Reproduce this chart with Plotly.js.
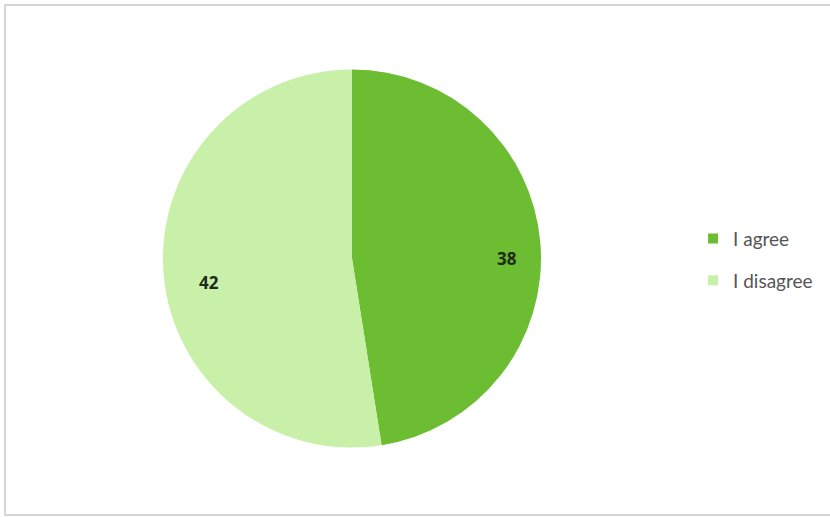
<!DOCTYPE html>
<html>
<head>
<meta charset="utf-8">
<script src="https://cdn.plot.ly/plotly-3.0.1.min.js"></script>
<style>html,body{margin:0;padding:0;background:#fff;}#chart{width:830px;height:517px;}</style>
</head>
<body>
<div id="chart"></div>
<script>
const labels = ["I agree", "I disagree"];
const values = [38, 42];
const colors = ["#6cbd31", "#c8f0a8"];

const W = 830, H = 517;
const pieX = [163 / W, 541 / W];
const pieY = [(H - 452) / H, (H - 65) / H];

const traces = [{
  type: "pie",
  labels: labels,
  values: values,
  sort: false,
  direction: "clockwise",
  rotation: 0,
  marker: {colors: colors, line: {width: 0}},
  textinfo: "none",
  showlegend: false,
  hoverinfo: "label+value",
  domain: {x: pieX, y: pieY}
}];
labels.forEach((lab, i) => {
  traces.push({
    type: "scatter", mode: "markers", x: [null], y: [null],
    name: lab, legendgroup: "g" + i,
    marker: {symbol: "square", size: 10, color: colors[i]},
    hoverinfo: "skip"
  });
});

// value labels placed near the outer edge of each slice (angle derived from data)
const total = values.reduce((a, b) => a + b, 0);
const cxPx = (pieX[0] + pieX[1]) / 2 * W;
const cyPx = H - (pieY[0] + pieY[1]) / 2 * H;
const rPx = Math.min((pieX[1] - pieX[0]) * W, (pieY[1] - pieY[0]) * H) / 2;
let cum = 0;
const annotations = values.map(v => {
  const mid = (cum + v / 2) / total * 2 * Math.PI;
  cum += v;
  const r = rPx * 0.82;
  const px = cxPx + r * Math.sin(mid);
  const py = cyPx - r * Math.cos(mid);
  return {
    xref: "paper", yref: "paper", x: px / W, y: 1 - py / H,
    yshift: -12,
    text: String(v), showarrow: false,
    font: {family: "Open Sans, sans-serif", size: 17, color: "#1e2a1a", weight: "bold"}
  };
});

const layout = {
  width: W, height: H,
  margin: {l: 0, r: 0, t: 0, b: 0},
  paper_bgcolor: "#ffffff",
  plot_bgcolor: "rgba(0,0,0,0)",
  xaxis: {visible: false},
  yaxis: {visible: false},
  showlegend: true,
  legend: {
    x: 0.835, y: 0.575, xanchor: "left", yanchor: "top",
    font: {family: "Lato, Open Sans, sans-serif", size: 19, color: "#555555"},
    tracegroupgap: 14, itemwidth: 30, bgcolor: "rgba(0,0,0,0)"
  },
  annotations: annotations,
  shapes: [{
    type: "rect", xref: "paper", yref: "paper",
    x0: 5 / W, x1: 1.01, y0: 2 / H, y1: (H - 5) / H,
    line: {color: "#c8c8c8", width: 1.5}
  }]
};
Plotly.newPlot("chart", traces, layout, {displayModeBar: false});
</script>
</body>
</html>
